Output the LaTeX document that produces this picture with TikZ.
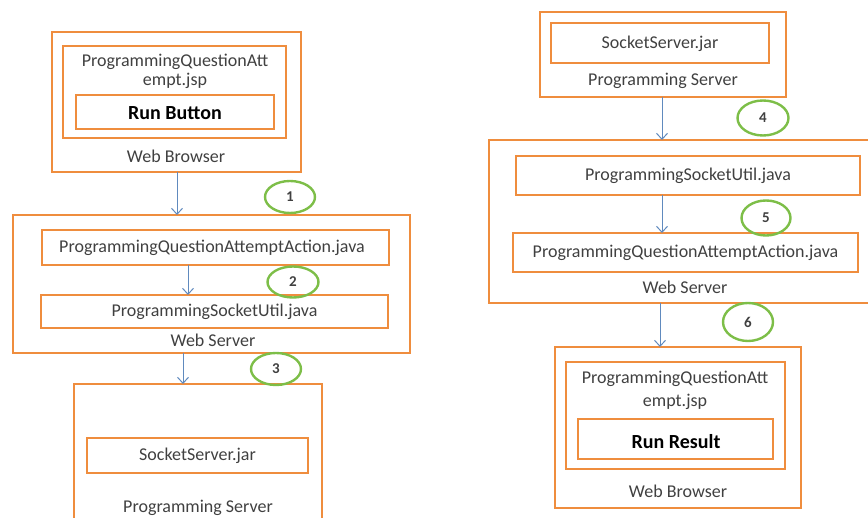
\documentclass[tikz,border=0pt]{standalone}
\usepackage{fontspec}
\setmainfont{Carlito}
\usetikzlibrary{arrows.meta,shapes.geometric}
\definecolor{boxorange}{RGB}{239,141,62}
\definecolor{stepgreen}{RGB}{125,190,72}
\definecolor{arrowblue}{RGB}{96,138,190}
\definecolor{txtgray}{RGB}{64,64,64}
\tikzset{
  obox/.style={draw=boxorange, line width=2.9pt, inner sep=0pt, outer sep=0pt},
  lbl/.style={text=txtgray, font=\fontsize{18}{21}\selectfont, inner sep=0pt},
  blbl/.style={text=black, font=\fontsize{20}{23}\selectfont\bfseries, inner sep=0pt},
  stepnum/.style={ellipse, draw=stepgreen, line width=2.4pt, inner sep=0pt,
    text=txtgray, font=\fontsize{15}{18}\selectfont\bfseries},
  flow/.style={draw=arrowblue, line width=1pt, -{Straight Barb[length=6pt,width=11pt,line width=1pt]}},
}
\begin{document}
\begin{tikzpicture}[x=1pt,y=-1pt]
\useasboundingbox (0,0) rectangle (868,518);
\clip (0,0) rectangle (868,518);
% ---------- left column ----------
\node[obox, minimum width=249pt, minimum height=140pt] (wb1) at (176.5,102) {};
\node[obox, minimum width=223pt, minimum height=92pt] (jsp1) at (174.5,92) {};
\node[obox, minimum width=198pt, minimum height=34pt] (rb) at (175,112) {};
\node[lbl] (jsp1a) at (175,62) {ProgrammingQuestionAtt};
\node[lbl] (jsp1b) at (175,81) {empt.jsp};
\node[blbl] (rbt) at (175,113) {Run Button};
\node[lbl] (wb1t) at (176,156) {Web Browser};

\node[obox, minimum width=397pt, minimum height=138pt] (ws1) at (211.5,284) {};
\node[obox, minimum width=347pt, minimum height=35pt] (pqaa1) at (215.5,247.5) {};
\node[lbl] (pqaa1t) at (212,248) {ProgrammingQuestionAttemptAction.java};
\node[obox, minimum width=347pt, minimum height=33pt] (psu1) at (214.5,311.5) {};
\node[lbl] (psu1t) at (214.5,312) {ProgrammingSocketUtil.java};
\node[lbl] (ws1t) at (213,340) {Web Server};

\node[obox, minimum width=248pt, minimum height=160pt] (ps1) at (198,464) {};
\node[obox, minimum width=221pt, minimum height=35pt] (ssj1) at (197.5,455.5) {};
\node[lbl] (ssj1t) at (197.5,456) {SocketServer.jar};
\node[lbl] (ps1t) at (198,508) {Programming Server};

\coordinate (xa1) at (177,0);
\coordinate (xa2) at (188,0);
\coordinate (xa3) at (183,0);
\draw[flow] (wb1.south -| xa1) -- (ws1.north -| xa1);
\draw[flow] (pqaa1.south -| xa2) -- (psu1.north -| xa2);
\draw[flow] (ws1.south -| xa3) -- (ps1.north -| xa3);

\node[stepnum, minimum width=50pt, minimum height=32pt] (n1) at (290,197) {1};
\node[stepnum, minimum width=51pt, minimum height=31pt] (n2) at (293,282) {2};
\node[stepnum, minimum width=50pt, minimum height=32pt] (n3) at (276,369) {3};

% ---------- right column ----------
\node[obox, minimum width=246pt, minimum height=85pt] (ps2) at (663,54.5) {};
\node[obox, minimum width=218pt, minimum height=40pt] (ssj2) at (660,43) {};
\node[lbl] (ssj2t) at (660,43.5) {SocketServer.jar};
\node[lbl] (ps2t) at (663,81) {Programming Server};

\node[obox, minimum width=400pt, minimum height=163pt] (ws2) at (689,221.5) {};
\node[obox, minimum width=344pt, minimum height=39pt] (psu2) at (688,175.5) {};
\node[lbl] (psu2t) at (688,176) {ProgrammingSocketUtil.java};
\node[obox, minimum width=345pt, minimum height=39pt] (pqaa2) at (685.5,252.5) {};
\node[lbl] (pqaa2t) at (685.5,253) {ProgrammingQuestionAttemptAction.java};
\node[lbl] (ws2t) at (685,287) {Web Server};

\node[obox, minimum width=246pt, minimum height=161pt] (wb2) at (678,427.5) {};
\node[obox, minimum width=219pt, minimum height=107pt] (jsp2) at (675.5,415.5) {};
\node[obox, minimum width=195pt, minimum height=40pt] (rr) at (675.5,439) {};
\node[lbl] (jsp2a) at (675,379) {ProgrammingQuestionAtt};
\node[lbl] (jsp2b) at (675,402) {empt.jsp};
\node[blbl] (rrt) at (676,442) {Run Result};
\node[lbl] (wb2t) at (678,491) {Web Browser};

\coordinate (xa4) at (662,0);
\coordinate (xa5) at (662,0);
\coordinate (xa6) at (660,0);
\draw[flow] (ps2.south -| xa4) -- (ws2.north -| xa4);
\draw[flow] (psu2.south -| xa5) -- (pqaa2.north -| xa5);
\draw[flow] (ws2.south -| xa6) -- (wb2.north -| xa6);

\node[stepnum, minimum width=51pt, minimum height=35pt] (n4) at (763,118) {4};
\node[stepnum, minimum width=49pt, minimum height=35pt] (n5) at (766,218) {5};
\node[stepnum, minimum width=50pt, minimum height=38pt] (n6) at (748,322) {6};
\end{tikzpicture}
\end{document}
